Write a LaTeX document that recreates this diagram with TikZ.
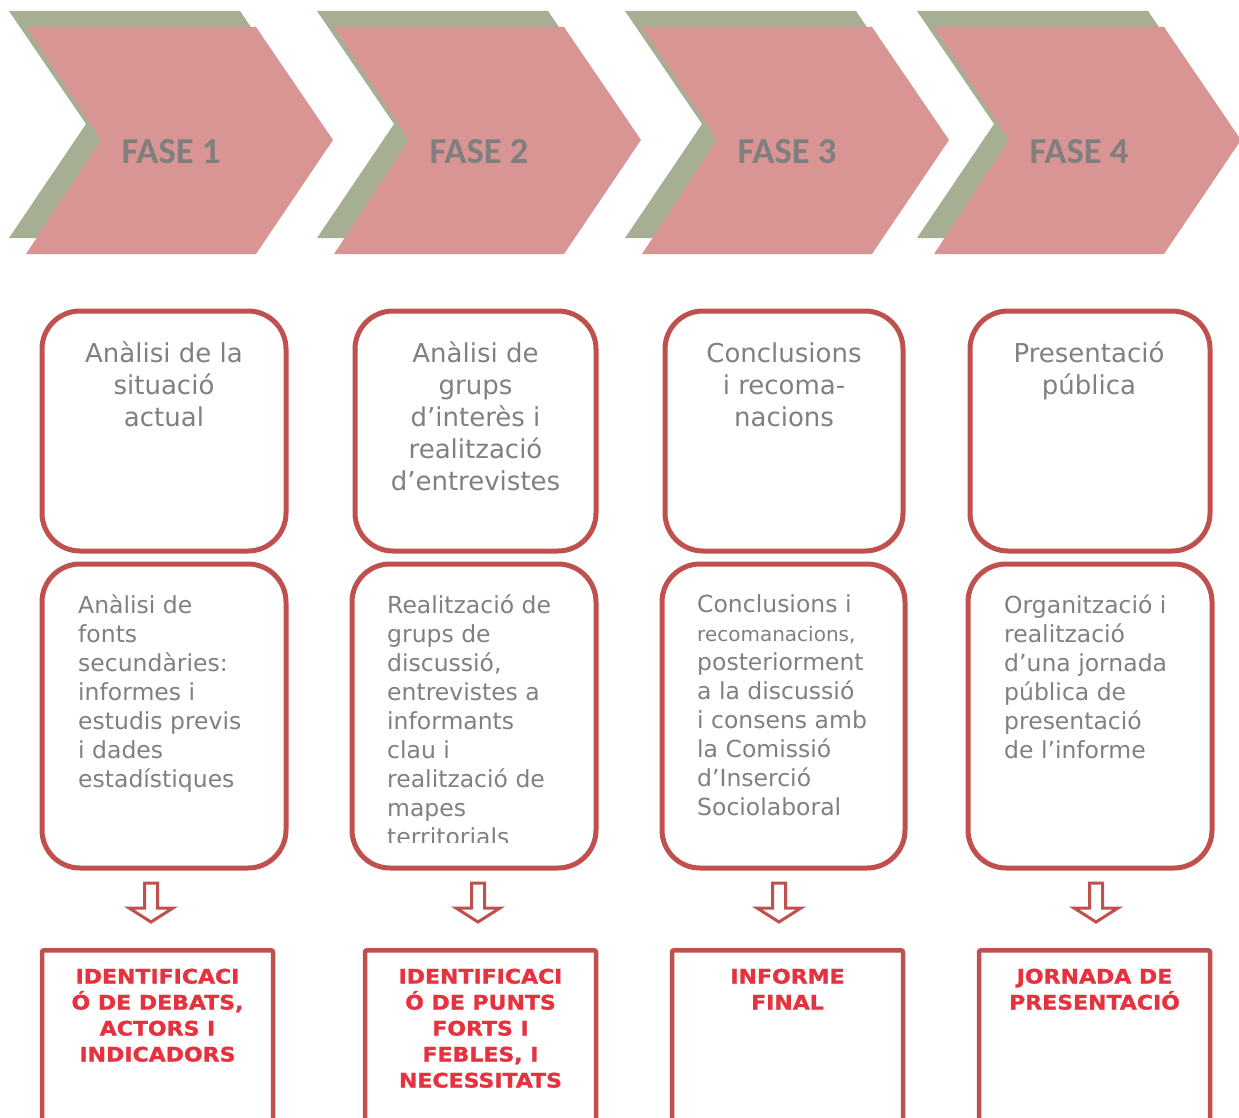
\documentclass[tikz,border=0pt]{standalone}
\usepackage{fontspec}
\setmainfont{DejaVu Sans}
\newfontfamily\fasefont{Carlito}
\newfontfamily\widebold[FakeStretch=1.1,FakeBold=1.2]{DejaVu Sans}
\usetikzlibrary{calc}
\definecolor{pinkc}{HTML}{D99594}
\definecolor{greenc}{HTML}{A6AE94}
\definecolor{boxred}{HTML}{C0504D}
\definecolor{txtgray}{HTML}{808080}
\definecolor{txtred}{HTML}{E5323E}
\definecolor{fasegray}{HTML}{7F7F7F}
\tikzset{
  rbox/.style={draw=boxred, line width=5pt, rounded corners=38pt, fill=white, inner sep=0pt},
  sbox/.style={draw=boxred, line width=4.5pt, rounded corners=2pt, fill=white, inner sep=0pt},
  tone/.style={font=\fontsize{26}{32}\selectfont, text=txtgray, align=center, inner sep=0pt, anchor=north},
  ttwo/.style={font=\fontsize{23.5}{29}\selectfont, text=txtgray, align=left, inner sep=0pt, anchor=north west},
  tthree/.style={font=\widebold\bfseries\fontsize{20}{26}\selectfont, text=txtred, align=center, inner sep=0pt, anchor=north},
  fase/.style={font=\fasefont\bfseries\fontsize{36.5}{40}\selectfont, text=fasegray, inner sep=0pt},
  downarrow/.style={draw=boxred, line width=3pt, fill=white, line join=miter},
}
\begin{document}
\begin{tikzpicture}[x=1pt,y=-1pt]
\useasboundingbox (0,0) rectangle (1239,1118);
\clip (0,0) rectangle (1239,1118);
% chevrons
\foreach \x/\n in {26/1,334/2,642/3,934/4}{
  \fill[greenc] (\x-17,11) -- (\x+214,11) -- (\x+291,124) -- (\x+214,238) -- (\x-17,238) -- (\x+60,124) -- cycle;
  \fill[pinkc] (\x,27) -- (\x+230,27) -- (\x+307,140) -- (\x+230,254) -- (\x,254) -- (\x+75,140) -- cycle;
  \node[fase] (fase\n) at (\x+145,152) {FASE \n};
}
% row 1 boxes
\node[rbox, minimum width=244pt, minimum height=240pt] (a1) at (164,431) {};
\node[rbox, minimum width=241pt, minimum height=240pt] (a2) at (475.5,431) {};
\node[rbox, minimum width=238pt, minimum height=240pt] (a3) at (784,431) {};
\node[rbox, minimum width=240pt, minimum height=240pt] (a4) at (1090,431) {};
\node[tone] (ta1) at (164,342) {Anàlisi de la\\situació\\actual};
\node[tone] (ta2) at (475.5,342) {Anàlisi de\\grups\\d’interès i\\realització\\d’entrevistes};
\node[tone] (ta3) at (784,343) {Conclusions\\i recoma-\\nacions};
\node[tone] (ta4) at (1089,342) {Presentació\\pública};
% row 2 boxes
\node[rbox, minimum width=244pt, minimum height=304pt] (b1) at (164,716) {};
\node[rbox, minimum width=244pt, minimum height=304pt] (b2) at (474,716) {};
\node[rbox, minimum width=243pt, minimum height=304pt] (b3) at (783.5,716) {};
\node[rbox, minimum width=244pt, minimum height=304pt] (b4) at (1090,716) {};
\node[ttwo] (tb1) at (78,594) {Anàlisi de\\fonts\\secundàries:\\informes i\\estudis previs\\i dades\\estadístiques};
\begin{scope}
  \clip (360,580) rectangle (590,842.5);
  \node[ttwo] (tb2) at (387,594) {Realització de\\grups de\\discussió,\\entrevistes a\\informants\\clau i\\realització de\\mapes\\territorials};
\end{scope}
\node[ttwo] (tb3) at (697,594) {Conclusions i\\{\fontsize{20}{29}\selectfont recomanacions,}\\posteriorment\\a la discussió\\i consens amb\\la Comissió\\d’Inserció\\Sociolaboral};
\node[ttwo] (tb4) at (1004,594) {Organització i\\realització\\d’una jornada\\pública de\\presentació\\de l’informe};
% arrows
\foreach \x/\n in {151/1,478/2,779/3,1096/4}{
  \coordinate (arr\n) at (\x,883);
  \draw[downarrow] (arr\n) ++(-6.5,0) -- ++(13,0) -- ++(0,25) -- ++(15.5,0) -- ++(-22,14) -- ++(-22,-14) -- ++(15.5,0) -- cycle;
}
% bottom boxes
\node[sbox, minimum width=231pt, minimum height=200pt, anchor=north] (c1) at (157.5,948) {};
\node[sbox, minimum width=231pt, minimum height=200pt, anchor=north] (c2) at (480.5,948) {};
\node[sbox, minimum width=231pt, minimum height=200pt, anchor=north] (c3) at (787.5,948) {};
\node[sbox, minimum width=231pt, minimum height=200pt, anchor=north] (c4) at (1094.5,948) {};
\node[tthree] (tc1) at (157.5,968.5) {IDENTIFICACI\\Ó DE DEBATS,\\ACTORS I\\INDICADORS};
\node[tthree] (tc2) at (480.5,968.5) {IDENTIFICACI\\Ó DE PUNTS\\FORTS I\\FEBLES, I\\NECESSITATS};
\node[tthree] (tc3) at (787.5,968.5) {INFORME\\FINAL};
\node[tthree] (tc4) at (1094.5,968.5) {JORNADA DE\\PRESENTACIÓ};
\end{tikzpicture}
\end{document}
